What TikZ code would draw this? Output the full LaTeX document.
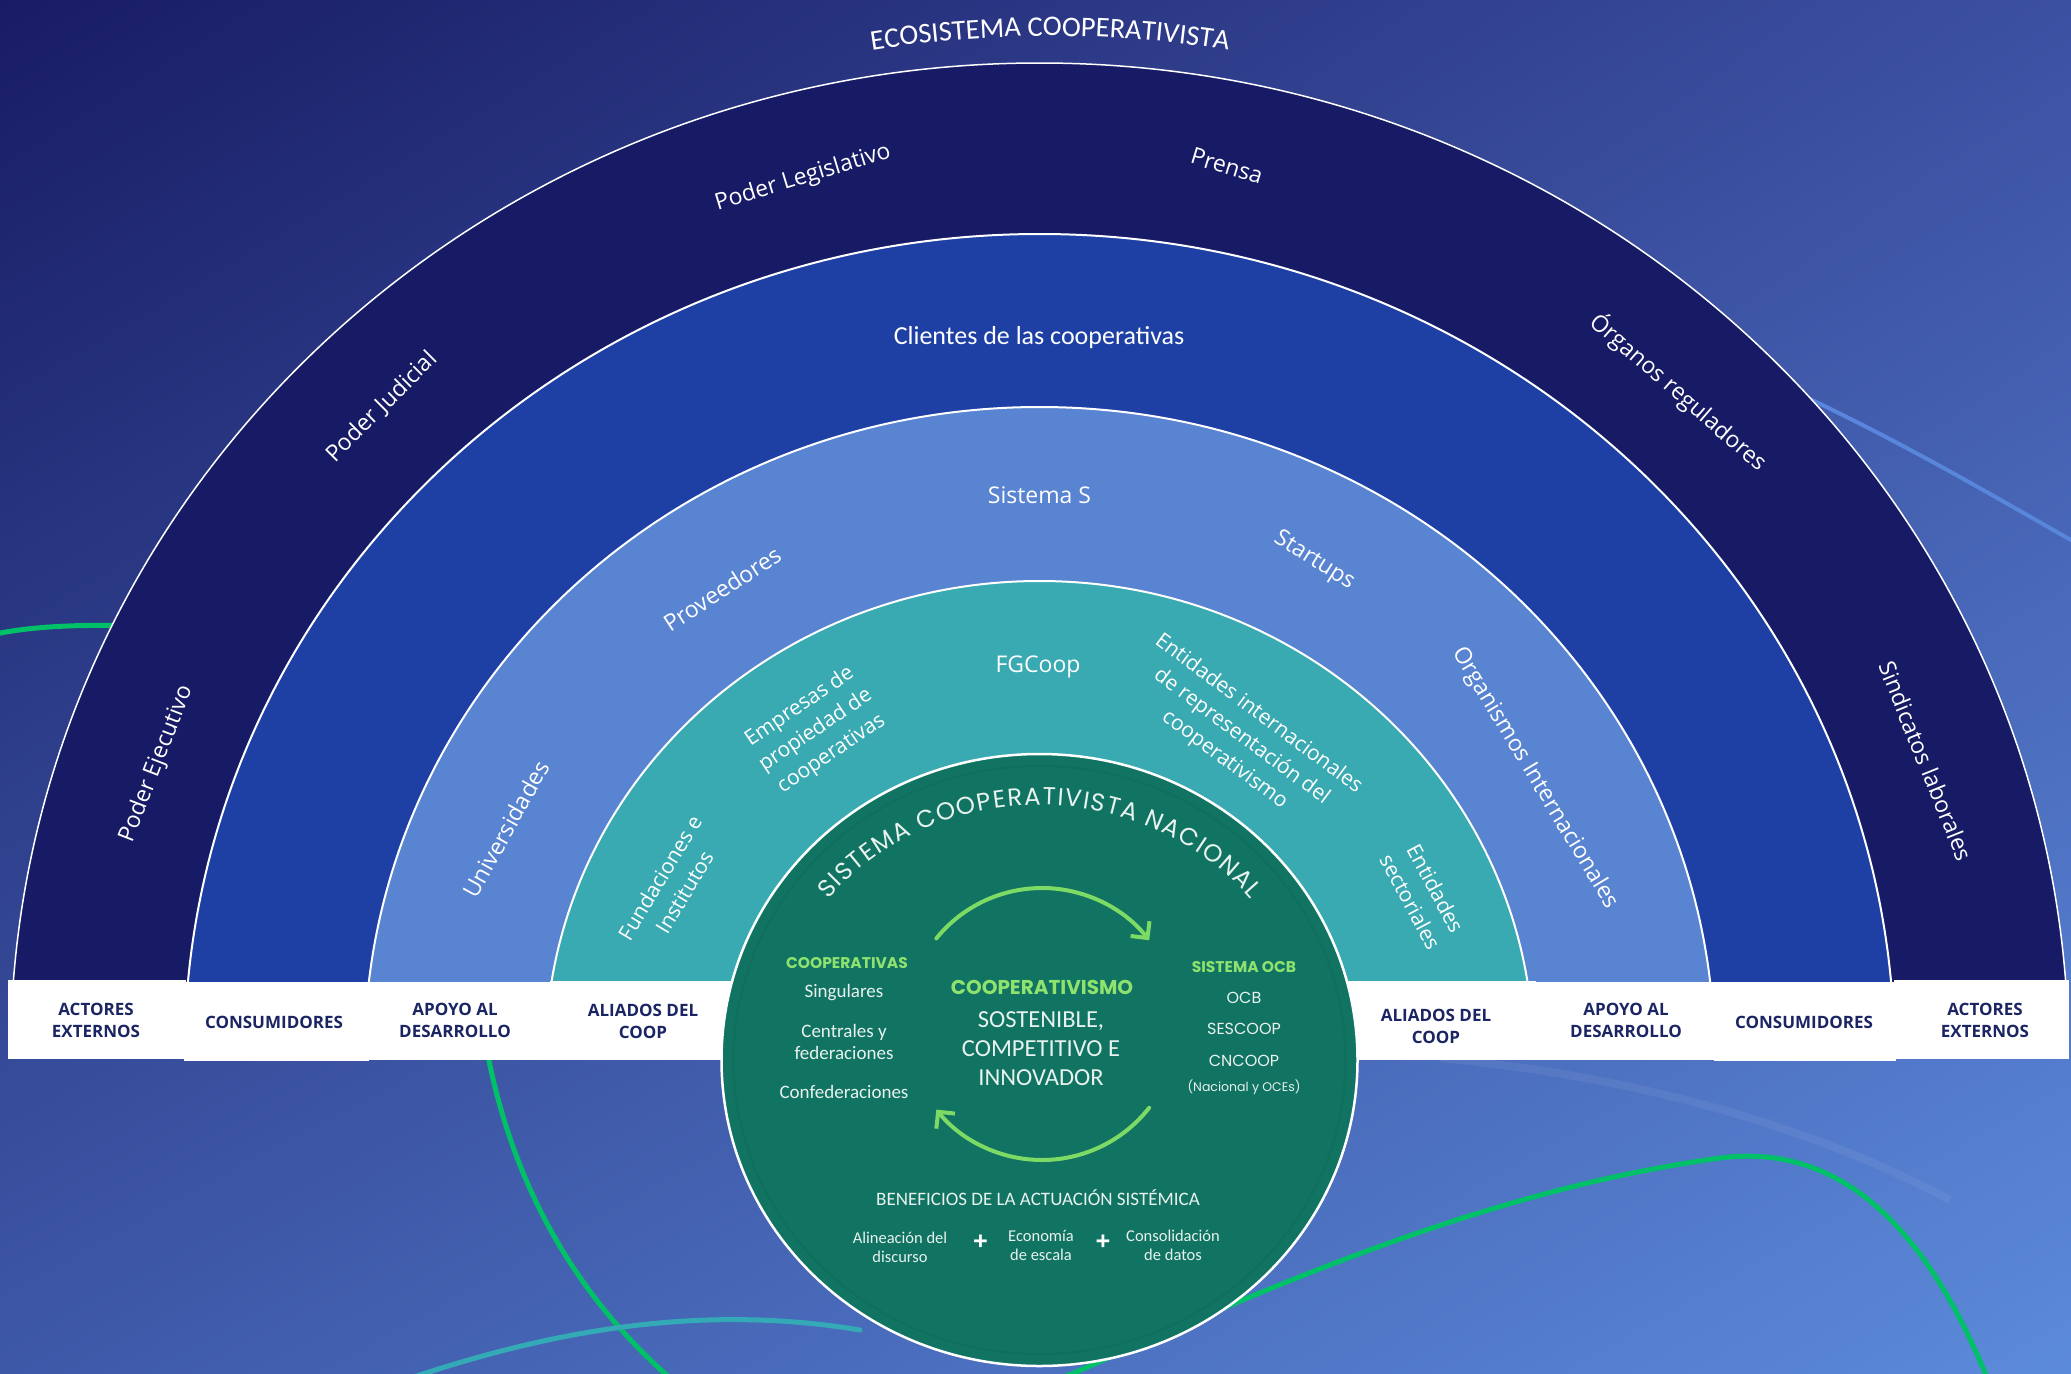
\documentclass[tikz,border=0pt]{standalone}
\usepackage{fontspec}
\setmainfont{Open Sans}
\newfontfamily\osans{Open Sans}
\newfontfamily\calib{Carlito}
\newfontfamily\popp{Poppins}
\usetikzlibrary{decorations.text,arrows.meta,shadings}
\definecolor{bandA}{RGB}{23,27,101}
\definecolor{bandB}{RGB}{30,64,165}
\definecolor{bandC}{RGB}{88,132,209}
\definecolor{bandD}{RGB}{58,170,178}
\definecolor{coreG}{RGB}{17,116,98}
\definecolor{coreRing}{RGB}{15,110,92}
\definecolor{lgreen}{RGB}{143,226,110}
\definecolor{arrowG}{RGB}{125,218,100}
\definecolor{navyT}{RGB}{27,37,99}
\definecolor{bgUL}{RGB}{24,28,100}
\definecolor{bgUR}{RGB}{60,80,162}
\definecolor{bgLL}{RGB}{62,88,168}
\definecolor{bgLR}{RGB}{92,138,218}
\definecolor{vivid}{RGB}{0,192,104}
\definecolor{tealL}{RGB}{52,170,182}
\definecolor{paleB}{RGB}{88,134,218}
\definecolor{softW}{RGB}{232,242,238}
\begin{document}
\begin{tikzpicture}[x=1pt,y=1pt,
  bandlbl/.style={text=white,font=\osans\fontsize{23}{28}\selectfont,align=center,inner sep=0},
  teallbl/.style={text=white,font=\osans\fontsize{21}{28.5}\selectfont,align=center,inner sep=0},
  striplbl/.style={text=navyT,font=\osans\bfseries\fontsize{17}{22}\selectfont,align=center,inner sep=0},
  corelbl/.style={text=softW,font=\calib\fontsize{19}{22}\selectfont,align=center,inner sep=0},
  greenhead/.style={text=lgreen,font=\popp\bfseries\fontsize{15.5}{18}\selectfont,inner sep=0},
  ocblbl/.style={text=softW,font=\popp\fontsize{16}{19}\selectfont,inner sep=0},
  benlbl/.style={text=softW,font=\calib\fontsize{16.5}{19}\selectfont,align=center,inner sep=0},
  plussign/.style={text=white,font=\osans\bfseries\fontsize{26}{26}\selectfont,inner sep=0},
  cyclearrow/.style={draw=arrowG,line width=4,line cap=round,-{Straight Barb[length=12pt,width=24pt,line width=4pt]}},
  deco/.style={line width=5,line cap=round}
]
\useasboundingbox (0,-1373) rectangle (2071,0);
% background
\shade[upper left=bgUL,upper right=bgUR,lower left=bgLL,lower right=bgLR] (0,-1373) rectangle (2071,0);
% decorative lines
\draw[deco,vivid] (-5,-634) .. controls (40,-625) and (100,-622) .. (220,-630);
\draw[deco,vivid] (478,-990) .. controls (495,-1150) and (560,-1290) .. (690,-1395);
\draw[deco,tealL] (390,-1385) .. controls (520,-1340) and (680,-1300) .. (860,-1330);
\draw[deco,vivid] (1000,-1405) .. controls (1200,-1320) and (1450,-1195) .. (1720,-1158) .. controls (1860,-1140) and (1940,-1260) .. (1990,-1385);
\draw[line width=4,paleB] (1780,-385) .. controls (1900,-440) and (2000,-500) .. (2085,-548);
\draw[line width=8,white,opacity=0.06] (1440,-1058) .. controls (1620,-1075) and (1800,-1120) .. (1950,-1200);
% bands
\begin{scope}
\clip (-10,-981) rectangle (2081,10);
\filldraw[fill=bandA,draw=white,line width=1.5] (1039.5,-1056) ellipse [x radius=1029,y radius=993];
\filldraw[fill=bandB,draw=white,line width=2] (1039.5,-1056) ellipse [x radius=855,y radius=822];
\filldraw[fill=bandC,draw=white,line width=2] (1039.5,-1056) ellipse [x radius=675,y radius=649];
\filldraw[fill=bandD,draw=white,line width=2] (1039.5,-1056) ellipse [x radius=494,y radius=475];
\end{scope}
% strip boxes
\fill[white] (8,-980) rectangle (186,-1059);
\fill[white] (184,-982) rectangle (369,-1061);
\fill[white] (367,-982) rectangle (552,-1060);
\fill[white] (550,-981) rectangle (760,-1060);
\fill[white] (1320,-981) rectangle (1536,-1060);
\fill[white] (1534,-982) rectangle (1716,-1060);
\fill[white] (1714,-982) rectangle (1896,-1061);
\fill[white] (1894,-980) rectangle (2069,-1059);
% core circle
\filldraw[fill=coreG,draw=white,line width=2.5] (1039.5,-1060) ellipse [x radius=318,y radius=306];
\draw[coreRing,line width=2] (1039.5,-1060) ellipse [x radius=306,y radius=294];
% curved titles
\path[decorate,decoration={text along path,text align=center,text color=white,
  text={|\calib\fontsize{28.5}{30}\selectfont|ECOSISTEMA COOPERATIVISTA}}]
  (1050,-1056) ++(108:1070 and 1020) arc[start angle=108,end angle=72,x radius=1070,y radius=1020];
\path[decorate,decoration={text along path,text align={fit to path},text color=softW,
  text={|\popp\fontsize{24.5}{26}\selectfont|SISTEMA COOPERATIVISTA NACIONAL}}]
  (1039.5,-1060) ++(141:272 and 255) arc[start angle=141,end angle=39,x radius=272,y radius=255];
% outer band labels
\node[bandlbl,rotate=69] (pej) at (157,-764) {Poder Ejecutivo};
\node[bandlbl,rotate=45] (pju) at (382,-407) {Poder Judicial};
\node[bandlbl,rotate=17] (ple) at (803,-178) {Poder Legislativo};
\node[bandlbl,rotate=-17] (pre) at (1227,-166) {Prensa};
\node[bandlbl,rotate=-41] (org) at (1679,-392) {Órganos reguladores};
\node[bandlbl,rotate=-68] (sin) at (1926,-761) {Sindicatos laborales};
% royal band
\node[text=white,font=\calib\fontsize{26}{30}\selectfont,inner sep=0] (cli) at (1039,-338) {Clientes de las cooperativas};
% light band
\node[bandlbl] (sis) at (1039.5,-495) {Sistema S};
\node[bandlbl,rotate=33] (pro) at (722,-589) {Proveedores};
\node[bandlbl,rotate=-32] (sta) at (1314,-561) {Startups};
\node[bandlbl,rotate=61] (uni) at (506,-829) {Universidades};
\node[bandlbl,rotate=-59] (oin) at (1535,-778) {Organismos Internacionales};
% teal band
\node[teallbl,font=\osans\fontsize{23}{28}\selectfont] (fgc) at (1038,-667) {FGCoop};
\node[teallbl,rotate=34] (emp) at (815.7,-730.5) {Empresas de\\propiedad de\\cooperativas};
\node[teallbl,rotate=-36.6] (ent) at (1241.5,-737) {Entidades internacionales\\de representación del\\cooperativismo};
\node[teallbl,rotate=59] (fun) at (672,-885) {Fundaciones e\\Institutos};
\node[teallbl,rotate=-62] (sec) at (1423,-895) {Entidades\\sectoriales};
% strip labels
\node[striplbl] (s1) at (96,-1020) {ACTORES\\EXTERNOS};
\node[striplbl] (s2) at (274,-1022) {CONSUMIDORES};
\node[striplbl] (s3) at (455,-1020) {APOYO AL\\DESARROLLO};
\node[striplbl] (s4) at (643,-1021) {ALIADOS DEL\\COOP};
\node[striplbl] (s5) at (1436,-1026) {ALIADOS DEL\\COOP};
\node[striplbl] (s6) at (1626,-1020) {APOYO AL\\DESARROLLO};
\node[striplbl] (s7) at (1804,-1022) {CONSUMIDORES};
\node[striplbl] (s8) at (1985,-1020) {ACTORES\\EXTERNOS};
% core contents
\node[greenhead] (cph) at (847,-963) {COOPERATIVAS};
\node[corelbl] (csi) at (844,-993) {Singulares};
\node[corelbl] (cce) at (844,-1042) {Centrales y\\federaciones};
\node[corelbl] (cco) at (844,-1092) {Confederaciones};
\node[text=lgreen,font=\popp\bfseries\fontsize{20}{24}\selectfont,inner sep=0] (cvm) at (1042,-987) {COOPERATIVISMO};
\node[text=softW,font=\calib\fontsize{24.5}{29}\selectfont,align=center,inner sep=0] (sci) at (1041,-1049) {SOSTENIBLE,\\COMPETITIVO E\\INNOVADOR};
\node[greenhead] (ocb) at (1244,-967) {SISTEMA OCB};
\node[ocblbl] (o1) at (1244,-998) {OCB};
\node[ocblbl] (o2) at (1244,-1029) {SESCOOP};
\node[ocblbl] (o3) at (1244,-1061) {CNCOOP};
\node[ocblbl,font=\popp\fontsize{12.5}{15}\selectfont] (o4) at (1244,-1087) {(Nacional y OCEs)};
\node[corelbl] (ben) at (1038,-1198) {BENEFICIOS DE LA ACTUACIÓN SISTÉMICA};
\node[benlbl] (b1) at (900,-1247) {Alineación del\\discurso};
\node[plussign] (p1) at (980.5,-1243) {+};
\node[benlbl] (b2) at (1041,-1245) {Economía\\de escala};
\node[plussign] (p2) at (1103,-1243) {+};
\node[benlbl] (b3) at (1173,-1245) {Consolidación\\de datos};
% cycle arrows
\draw[cyclearrow] (1042,-1024) ++(141:136) arc[start angle=141,end angle=38,radius=136];
\draw[cyclearrow] (1042,-1024) ++(-38:136) arc[start angle=-38,end angle=-141,radius=136];
\end{tikzpicture}
\end{document}
